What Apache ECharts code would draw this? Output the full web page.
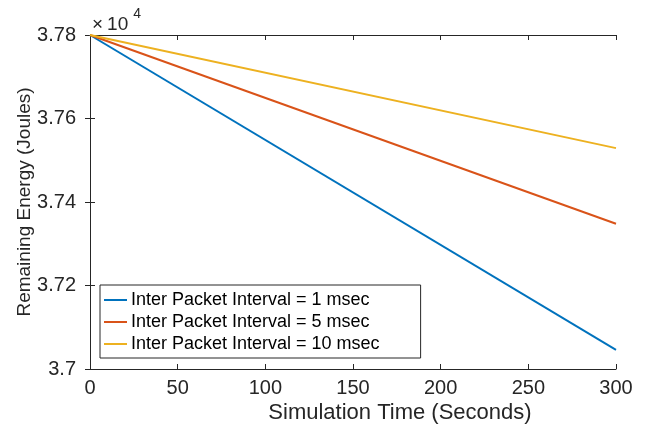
<!DOCTYPE html>
<html>
<head>
<meta charset="utf-8">
<script src="https://cdn.jsdelivr.net/npm/echarts@6/dist/echarts.min.js"></script>
<style>html,body{margin:0;padding:0;background:#fff;}#c{width:649px;height:428px;}</style>
</head>
<body>
<div id="c"></div>
<script>
// Data (Remaining energy in Joules)
const timeSec = [0, 300];
const energy1ms = [37800, 37046];
const energy5ms = [37800, 37348];
const energy10ms = [37800, 37529];
const seriesNames = ['Inter Packet Interval = 1 msec', 'Inter Packet Interval = 5 msec', 'Inter Packet Interval = 10 msec'];
const xTicks = [0, 50, 100, 150, 200, 250, 300];
const yTicks = [37000, 37200, 37400, 37600, 37800];

const FONT = '"Liberation Sans", Arial, Helvetica, sans-serif';
const AX = '#262626';
const colors = ['#0072BD', '#D95319', '#EDB120'];

function pairs(xs, ys){ return xs.map((x,i)=>[x, ys[i]]); }
const yFmt = v => parseFloat((v/1e4).toFixed(4)).toString();

const chart = echarts.init(document.getElementById('c'), null, {renderer:'canvas'});
const axisCommon = {
  axisLine:{show:true, lineStyle:{color:AX, width:1}},
  axisTick:{show:true, inside:true, length:5, lineStyle:{color:AX}},
  splitLine:{show:false}
};
chart.setOption({
  animation:false,
  backgroundColor:'#fff',
  grid:{left:90, right:33, top:35, bottom:59, containLabel:false, outerBoundsMode:'none'},
  xAxis:[
    Object.assign({type:'value', min:0, max:300, interval:50, position:'bottom',
      axisLabel:{color:AX, fontSize:20, fontFamily:FONT, margin:9},
      name:'Simulation Time (Seconds)', nameLocation:'middle', nameGap:33, nameMoveOverlap:false,
      nameTextStyle:{color:AX, fontSize:22, fontFamily:FONT, padding:[0,0,0,94]}}, axisCommon),
    Object.assign({type:'value', min:0, max:300, interval:50, position:'top',
      axisLabel:{show:false}}, axisCommon)
  ],
  yAxis:[
    Object.assign({type:'value', min:37000, max:37800, interval:200, position:'left',
      axisLabel:{color:AX, fontSize:20, fontFamily:FONT, margin:14, formatter:yFmt},
      name:'Remaining Energy (Joules)', nameLocation:'middle', nameGap:56, nameMoveOverlap:false,
      nameTextStyle:{color:AX, fontSize:19, fontFamily:FONT}}, axisCommon),
    Object.assign({type:'value', min:37000, max:37800, interval:200, position:'right',
      axisLabel:{show:false}}, axisCommon)
  ],
  legend:{
    orient:'vertical', left:100, top:285,
    backgroundColor:'#fff', borderColor:AX, borderWidth:1,
    padding:[6, 41, 5, 4], itemGap:4, itemWidth:23, itemHeight:2,
    icon:'rect',
    textStyle:{color:'#000', fontSize:18, fontFamily:FONT, lineHeight:18, padding:[0,0,0,-1]},
    data:seriesNames
  },
  graphic:[{
    type:'text', left:92, top:7,
    style:{
      text:'{x|×}{a|10}{b|4}',
      rich:{
        x:{fontSize:19, fontFamily:FONT, fill:AX, padding:[10,4,0,0]},
        a:{fontSize:19, fontFamily:FONT, fill:AX, padding:[10,0,0,0]},
        b:{fontSize:14, fontFamily:FONT, fill:AX, padding:[2,0,0,5], verticalAlign:'top'}
      }
    }
  }],
  series:[
    {name:seriesNames[0], type:'line', data:pairs(timeSec, energy1ms), symbol:'none', lineStyle:{width:2, color:colors[0]}, itemStyle:{color:colors[0]}},
    {name:seriesNames[1], type:'line', data:pairs(timeSec, energy5ms), symbol:'none', lineStyle:{width:2, color:colors[1]}, itemStyle:{color:colors[1]}},
    {name:seriesNames[2], type:'line', data:pairs(timeSec, energy10ms), symbol:'none', lineStyle:{width:2, color:colors[2]}, itemStyle:{color:colors[2]}}
  ]
});
</script>
</body>
</html>
